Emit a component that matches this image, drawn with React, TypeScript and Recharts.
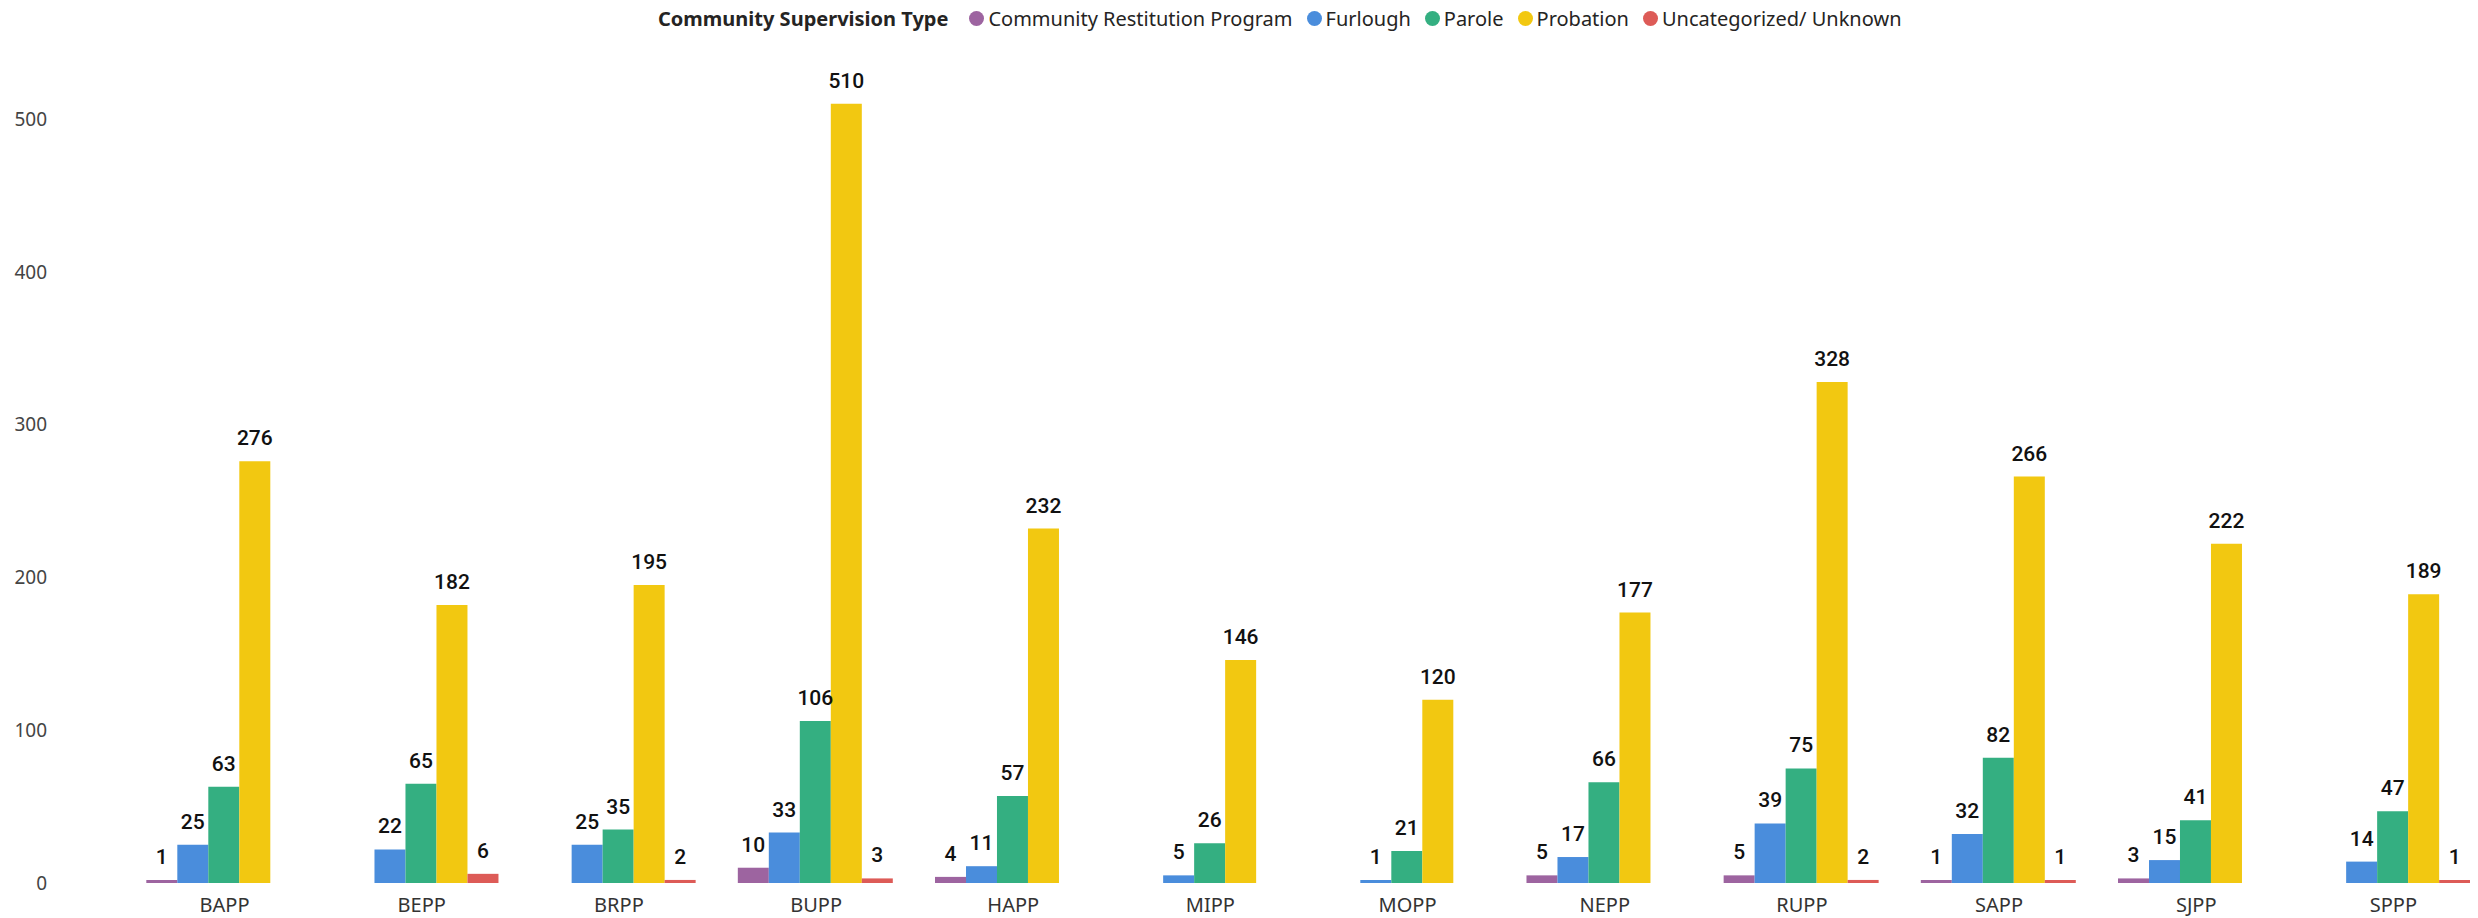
import { BarChart, Bar, XAxis, YAxis, LabelList } from "recharts";

const categories = ["BAPP", "BEPP", "BRPP", "BUPP", "HAPP", "MIPP", "MOPP", "NEPP", "RUPP", "SAPP", "SJPP", "SPPP"];

const restitution = [1, null, null, 10, 4, null, null, 5, 5, 1, 3, null];
const furlough = [25, 22, 25, 33, 11, 5, 1, 17, 39, 32, 15, 14];
const parole = [63, 65, 35, 106, 57, 26, 21, 66, 75, 82, 41, 47];
const probation = [276, 182, 195, 510, 232, 146, 120, 177, 328, 266, 222, 189];
const unknown = [null, 6, 2, 3, null, null, null, null, 2, 1, null, 1];

const yTicks = [0, 100, 200, 300, 400, 500];

const series = [
  { key: "restitution", name: "Community Restitution Program", color: "#9D64A0", values: restitution },
  { key: "furlough", name: "Furlough", color: "#4A8DDC", values: furlough },
  { key: "parole", name: "Parole", color: "#34AF81", values: parole },
  { key: "probation", name: "Probation", color: "#F2C811", values: probation },
  { key: "unknown", name: "Uncategorized/ Unknown", color: "#DD5B57", values: unknown },
];

const data = categories.map((c, i) => {
  const row: any = { name: c };
  series.forEach(s => { row[s.key] = s.values[i]; });
  return row;
});

const labelFont = "Roboto, 'DejaVu Sans Condensed', sans-serif";
const textFont = "'Noto Sans', 'Open Sans', sans-serif";

export default function App() {
  return (
    <div style={{ position: "relative", margin: "-8px 0 0 -8px", width: 2478, height: 918, overflow: "hidden", background: "#fff" }}>
      <div style={{ position: "absolute", left: 658, top: 5, display: "flex", alignItems: "center", fontFamily: textFont, fontSize: 20, color: "#252423", whiteSpace: "nowrap" }}>
        <span style={{ fontWeight: 700, marginRight: 7 }}>Community Supervision Type</span>
        {series.map(s => (
          <span key={s.key} style={{ display: "flex", alignItems: "center", marginLeft: 14 }}>
            <span style={{ width: 15, height: 15, borderRadius: "50%", background: s.color, marginRight: 4 }} />
            {s.name}
          </span>
        ))}
      </div>
      <BarChart
        width={2500}
        height={918}
        data={data}
        margin={{ top: 58, right: 8, bottom: 0, left: 0 }}
        barCategoryGap="10.3%"
        barGap={0}
      >
        <XAxis
          dataKey="name"
          axisLine={false}
          tickLine={false}
          tickSize={0}
          tickMargin={15}
          height={35}
          interval={0}
          tick={{ fontFamily: textFont, fontSize: 20, fill: "#333" }}
        />
        <YAxis
          width={126}
          domain={[0, 540]}
          ticks={yTicks}
          axisLine={false}
          tickLine={false}
          tickSize={0}
          tickMargin={79}
          tick={{ fontFamily: textFont, fontSize: 19, fill: "#444" }}
        />
        {series.map(s => (
          <Bar
            key={s.key}
            dataKey={s.key}
            name={s.name}
            fill={s.color}
            isAnimationActive={false}
            minPointSize={(v: any) => (v == null ? 0 : 3)}
          >
            <LabelList
              dataKey={s.key}
              position="top"
              offset={16}
              style={{ fontFamily: labelFont, fontSize: 21, fontWeight: 500, fill: "#111" }}
            />
          </Bar>
        ))}
      </BarChart>
    </div>
  );
}
